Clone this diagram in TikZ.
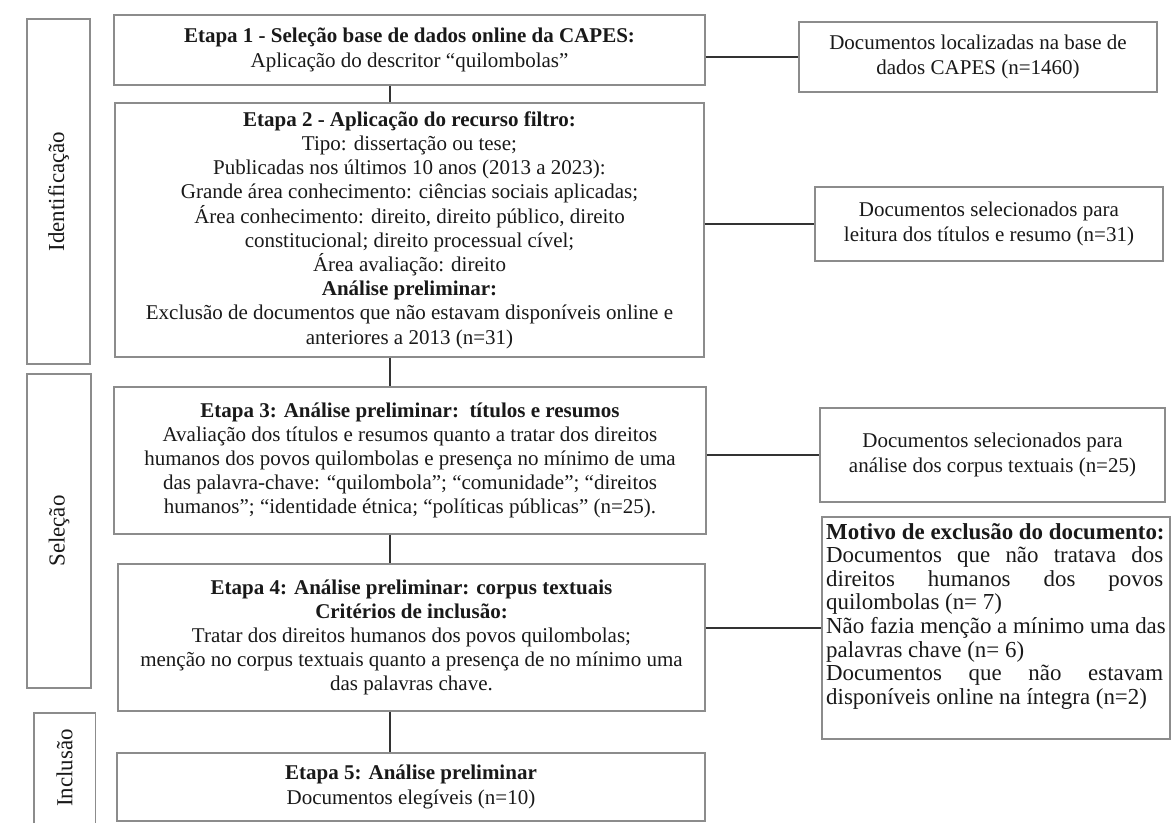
\documentclass[tikz,border=0pt]{standalone}
\usepackage{fontspec}
\usepackage{graphicx}
\setmainfont{Liberation Serif}
\begin{document}
\begin{tikzpicture}[x=1pt,y=-1pt,
  txt/.style={text=black!90, font=\fontsize{21}{24.2}\selectfont},
  bigtxt/.style={text=black!90, font=\fontsize{22.9}{23.6}\selectfont},
  box/.style={txt, draw=black!45, line width=1.4pt, rectangle, inner sep=0pt, align=center},
  link/.style={draw=black!80, line width=2pt}]
\useasboundingbox (0,0) rectangle (1173,823);
\fill[white] (0,0) rectangle (1173,823);

% side boxes
\node[box, bigtxt, minimum width=63, minimum height=345] (s1) at (58.5,191.5) {\rotatebox{90}{Identificação}};
\node[box, bigtxt, minimum width=64, minimum height=314] (s2) at (59,531) {\rotatebox{90}{Seleção}};
\node[bigtxt, inner sep=0pt, minimum width=61, minimum height=110, align=center] (s3) at (64.5,768) {\rotatebox{90}{Inclusão}};
\draw[draw=black!45, line width=1.4pt] (s3.south west) -- (s3.north west) -- (s3.north east) -- (s3.south east);

% main column
\node[box, minimum width=591, minimum height=70] (b1) at (409.5,50)
  {\textbf{Etapa 1 - Seleção base de dados online da CAPES:}\\ Aplicação do descritor “quilombolas”};
\node[box, minimum width=589, minimum height=254] (b2) at (409.5,230)
  {\textbf{Etapa 2 - Aplicação do recurso filtro:}\\
   Tipo: dissertação ou tese;\\
   Publicadas nos últimos 10 anos (2013 a 2023):\\
   Grande área conhecimento: ciências sociais aplicadas;\\
   Área conhecimento: direito, direito público, direito\\
   constitucional; direito processual cível;\\
   Área avaliação: direito\\
   \textbf{Análise preliminar:}\\
   Exclusão de documentos que não estavam disponíveis online e\\
   anteriores a 2013 (n=31)};
\node[box, minimum width=592, minimum height=147] (b3) at (410,460.5)
  {\textbf{Etapa 3: Análise preliminar:\ \ títulos e resumos}\\
   Avaliação dos títulos e resumos quanto a tratar dos direitos\\
   humanos dos povos quilombolas e presença no mínimo de uma\\
   das palavra-chave: “quilombola”; “comunidade”; “direitos\\
   humanos”; “identidade étnica; “políticas públicas” (n=25).};
\node[box, minimum width=587, minimum height=147] (b4) at (411.5,637.5)
  {\textbf{Etapa 4: Análise preliminar: corpus textuais}\\
   \textbf{Critérios de inclusão:}\\
   Tratar dos direitos humanos dos povos quilombolas;\\
   menção no corpus textuais quanto a presença de no mínimo uma\\
   das palavras chave.};
\node[box, minimum width=588, minimum height=68] (b5) at (411,787)
  {\textbf{Etapa 5: Análise preliminar}\\ Documentos elegíveis (n=10)};

% right column
\node[box, minimum width=358, minimum height=70] (r1) at (978,57)
  {Documentos localizadas na base de\\ dados CAPES (n=1460)};
\node[box, minimum width=348, minimum height=74] (r2) at (989,224)
  {Documentos selecionados para\\ leitura dos títulos e resumo (n=31)};
\node[box, minimum width=345, minimum height=94] (r3) at (992.5,455)
  {Documentos selecionados para\\ análise dos corpus textuais (n=25)};
\node[box, minimum width=348, minimum height=222] (r4) at (996,628) {};
\node[bigtxt, anchor=north west, inner sep=0pt, align=left] (r4t) at (826,523)
  {\textbf{Motivo de exclusão do documento:}\\
   \makebox[337pt][s]{Documentos que não tratava dos}\\
   \makebox[337pt][s]{direitos humanos dos povos}\\
   quilombolas (n= 7)\\
   Não fazia menção a mínimo uma das\\
   palavras chave (n= 6)\\
   \makebox[337pt][s]{Documentos que não estavam}\\
   disponíveis online na íntegra (n=2)};

% connectors
\coordinate (cx) at (390,0);
\draw[link] (b1.south -| cx) -- (b2.north -| cx);
\draw[link] (b2.south -| cx) -- (b3.north -| cx);
\draw[link] (b3.south -| cx) -- (b4.north -| cx);
\draw[link] (b4.south -| cx) -- (b5.north -| cx);
\draw[link] (b1.east |- r1.west) -- (r1.west);
\draw[link] (b2.east |- r2.west) -- (r2.west);
\draw[link] (b3.east |- r3.west) -- (r3.west);
\draw[link] (b4.east |- r4.west) -- (r4.west);
\end{tikzpicture}
\end{document}
